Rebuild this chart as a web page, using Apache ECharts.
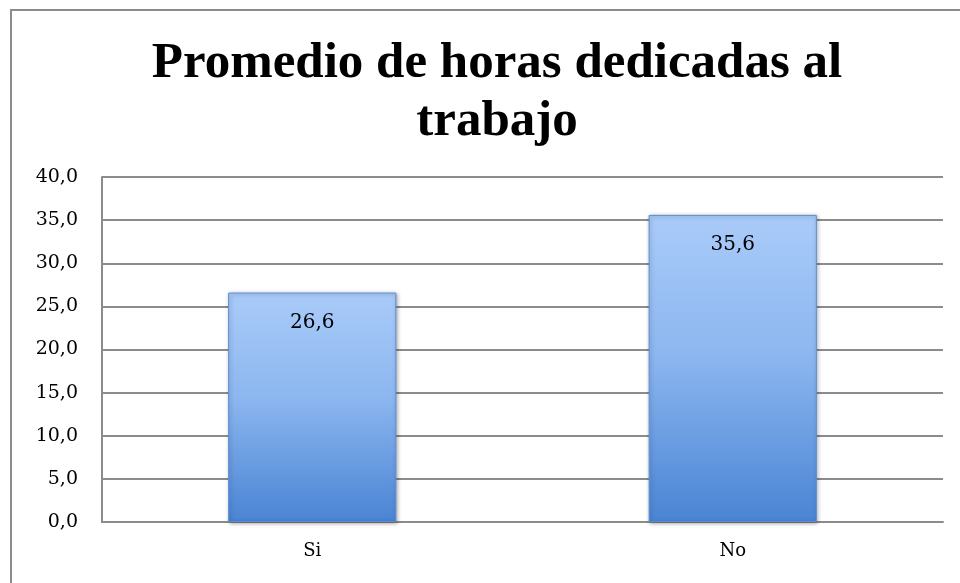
<!DOCTYPE html>
<html>
<head>
<meta charset="utf-8">
<script src="https://cdn.jsdelivr.net/npm/echarts@6/dist/echarts.min.js"></script>
<style>
  html, body { margin: 0; padding: 0; background: #fff; }
  #chart { width: 960px; height: 583px; }
</style>
</head>
<body>
<div id="chart"></div>
<script>
const categories = ['Si', 'No']
const values = [26.6, 35.6]
const titleText = 'Promedio de horas dedicadas al\ntrabajo'

const fmt = (v) => v.toFixed(1).replace('.', ',')

const chart = echarts.init(document.getElementById('chart'))

chart.setOption({
  animation: false,
  title: {
    text: titleText,
    left: 492,
    textAlign: 'center',
    top: 30,
    textStyle: {
      fontFamily: 'Liberation Serif',
      fontWeight: 'bold',
      fontSize: 51,
      lineHeight: 58,
      color: '#000',
    },
  },
  graphic: [
    {
      type: 'rect',
      shape: { x: 11, y: 10, width: 1000, height: 700 },
      style: { fill: 'none', stroke: '#8c8c8c', lineWidth: 2 },
      silent: true,
    },
  ],
  grid: {
    left: 102,
    right: 17,
    top: 177,
    bottom: 61,
  },
  xAxis: {
    type: 'category',
    data: categories,
    axisLine: { lineStyle: { color: '#8c8c8c', width: 2 } },
    axisTick: { show: false },
    axisLabel: {
      fontFamily: 'DejaVu Serif',
      fontSize: 18,
      color: '#000',
      margin: 20,
    },
  },
  yAxis: {
    type: 'value',
    min: 0,
    max: 40,
    interval: 5,
    axisLine: { show: true, lineStyle: { color: '#8c8c8c', width: 2 } },
    axisTick: { show: false },
    axisLabel: {
      fontFamily: 'DejaVu Serif',
      fontSize: 19,
      color: '#000',
      margin: 24,
      formatter: (v) => fmt(v),
    },
    splitLine: { lineStyle: { color: '#8c8c8c', width: 2 } },
  },
  series: [
    {
      type: 'bar',
      data: values,
      barWidth: '40%',
      itemStyle: {
        color: new echarts.graphic.LinearGradient(0, 0, 0, 1, [
          { offset: 0, color: '#a9cbf9' },
          { offset: 0.45, color: '#8db7f0' },
          { offset: 1, color: '#4a84d4' },
        ]),
        borderColor: '#5a8fd8',
        borderWidth: 1,
        shadowColor: 'rgba(0,0,0,0.35)',
        shadowBlur: 4,
        shadowOffsetX: 1,
        shadowOffsetY: 1,
      },
      label: {
        show: true,
        position: 'insideTop',
        distance: 20,
        fontFamily: 'DejaVu Serif',
        fontSize: 20,
        color: '#000',
        formatter: (p) => fmt(p.value),
      },
    },
  ],
})
</script>
</body>
</html>
